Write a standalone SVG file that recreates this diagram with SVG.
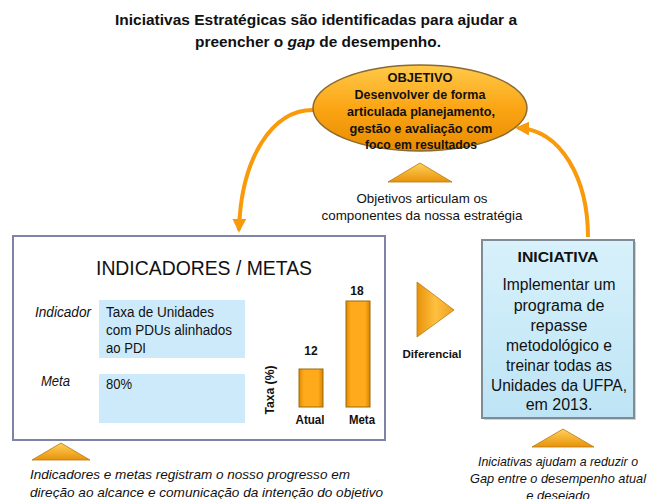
<svg xmlns="http://www.w3.org/2000/svg" width="661" height="499" viewBox="0 0 661 499">
<defs>
<style>
text{font-family:"Liberation Sans",Arial,sans-serif;fill:#111}
.b{font-weight:bold}
.i{font-style:italic}
.c{text-anchor:middle}
.conn{fill:none;stroke:#f99a0a;stroke-width:4}
.tri{fill:url(#gTri);stroke:#b97a10;stroke-width:0.8}
.bar{fill:url(#gBar);stroke:#9a6a10;stroke-width:1}
.blue{fill:#cdeafb}
</style>
<linearGradient id="gEll" x1="0" y1="0" x2="0" y2="1">
<stop offset="0" stop-color="#ffc94a"/>
<stop offset="0.5" stop-color="#fba514"/>
<stop offset="1" stop-color="#e88c00"/>
</linearGradient>
<linearGradient id="gTri" x1="0" y1="0" x2="0" y2="1">
<stop offset="0" stop-color="#ffd25a"/>
<stop offset="1" stop-color="#e8920a"/>
</linearGradient>
<linearGradient id="gTriR" x1="0" y1="0" x2="1" y2="0">
<stop offset="0" stop-color="#e8920a"/>
<stop offset="0.5" stop-color="#ffc040"/>
<stop offset="1" stop-color="#f0a020"/>
</linearGradient>
<linearGradient id="gBar" x1="0" y1="0" x2="1" y2="0">
<stop offset="0" stop-color="#e08a00"/>
<stop offset="0.2" stop-color="#ffaa1a"/>
<stop offset="0.8" stop-color="#ffaa1a"/>
<stop offset="1" stop-color="#d88400"/>
</linearGradient>
<linearGradient id="gBlue" x1="0" y1="0" x2="0" y2="1">
<stop offset="0" stop-color="#d8f1fb"/>
<stop offset="1" stop-color="#bde4f5"/>
</linearGradient>
<marker id="ah" viewBox="0 0 10 10" refX="8" refY="5" markerWidth="14" markerHeight="14" markerUnits="userSpaceOnUse" orient="auto">
<path d="M0,0 L10,5 L0,10 Z" fill="#f99a0a"/>
</marker>
</defs>
<rect width="661" height="499" fill="#fff"/>

<g id="title">
<text class="b c" x="316" y="25" font-size="15" textLength="402" lengthAdjust="spacingAndGlyphs">Iniciativas Estratégicas são identificadas para ajudar a</text>
<text class="b c" x="318" y="47" font-size="15" textLength="246" lengthAdjust="spacingAndGlyphs">preencher o <tspan font-style="italic">gap</tspan> de desempenho.</text>
</g>

<g id="connectors">
<path class="conn" d="M313,110 C272,110 241,158 239,230" marker-end="url(#ah)"/>
<path class="conn" d="M588,237 C588,180 562,130 518,128" marker-end="url(#ah)"/>
</g>

<g id="objetivo">
<ellipse cx="420" cy="108" rx="107" ry="43" fill="url(#gEll)" stroke="#8a6a30" stroke-width="1.5"/>
<text class="b c" x="420" y="82" font-size="13" textLength="65" lengthAdjust="spacingAndGlyphs">OBJETIVO</text>
<text class="b c" x="420" y="99" font-size="13" textLength="131" lengthAdjust="spacingAndGlyphs">Desenvolver de forma</text>
<text class="b c" x="421" y="116" font-size="13" textLength="148" lengthAdjust="spacingAndGlyphs">articulada planejamento,</text>
<text class="b c" x="421" y="133" font-size="13" textLength="143" lengthAdjust="spacingAndGlyphs">gestão e avaliação com</text>
<text class="b c" x="421" y="149" font-size="13" textLength="112" lengthAdjust="spacingAndGlyphs">foco em resultados</text>
</g>

<g id="objetivo-nota">
<polygon class="tri" points="420,163 452,182 388,182"/>
<text class="c" x="422" y="203" font-size="13" textLength="131" lengthAdjust="spacingAndGlyphs">Objetivos articulam os</text>
<text class="c" x="422" y="220" font-size="13" textLength="201" lengthAdjust="spacingAndGlyphs">componentes da nossa estratégia</text>
</g>

<g id="indicadores">
<rect x="13" y="236" width="372" height="204" fill="#fff" stroke="#7d84a6" stroke-width="2"/>
<text class="c" x="204" y="275" font-size="20" textLength="216" lengthAdjust="spacingAndGlyphs">INDICADORES / METAS</text>
<text class="i" x="35" y="317" font-size="14" textLength="56" lengthAdjust="spacingAndGlyphs">Indicador</text>
<text class="i" x="41" y="386" font-size="14" textLength="29" lengthAdjust="spacingAndGlyphs">Meta</text>
<rect class="blue" x="99" y="300" width="146" height="58"/>
<rect class="blue" x="99" y="374" width="146" height="49"/>
<text x="106" y="317" font-size="14" textLength="108" lengthAdjust="spacingAndGlyphs">Taxa de Unidades</text>
<text x="106" y="335" font-size="14" textLength="126" lengthAdjust="spacingAndGlyphs">com PDUs alinhados</text>
<text x="106" y="353" font-size="14" textLength="40" lengthAdjust="spacingAndGlyphs">ao PDI</text>
<text x="106" y="389" font-size="14" textLength="26" lengthAdjust="spacingAndGlyphs">80%</text>
<text class="b c" transform="translate(274,390) rotate(-90)" font-size="12" textLength="49" lengthAdjust="spacingAndGlyphs">Taxa (%)</text>
<rect class="bar" x="299" y="369" width="24" height="38"/>
<rect class="bar" x="346" y="301" width="24" height="106"/>
<text class="b c" x="311" y="355" font-size="12">12</text>
<text class="b c" x="357" y="295" font-size="12">18</text>
<text class="b c" x="310" y="424" font-size="12" textLength="29" lengthAdjust="spacingAndGlyphs">Atual</text>
<text class="b c" x="362" y="424" font-size="12" textLength="26" lengthAdjust="spacingAndGlyphs">Meta</text>
</g>

<g id="indicadores-nota">
<polygon class="tri" points="61,443 90,460 32,460"/>
<text class="i" x="30" y="479" font-size="13" textLength="320" lengthAdjust="spacingAndGlyphs">Indicadores e metas registram o nosso progresso em</text>
<text class="i" x="30" y="497" font-size="13" textLength="353" lengthAdjust="spacingAndGlyphs">direção ao alcance e comunicação da intenção do objetivo</text>
</g>

<g id="diferencial">
<polygon points="417,282 454,310 417,337" fill="url(#gTriR)" stroke="#b97a10" stroke-width="0.8"/>
<text class="b c" x="432" y="358" font-size="11" textLength="59" lengthAdjust="spacingAndGlyphs">Diferencial</text>
</g>

<g id="iniciativa">
<rect x="484" y="242" width="152" height="178" fill="#9aa" opacity="0.5"/>
<rect x="482" y="240" width="152" height="178" fill="url(#gBlue)" stroke="#7f8c94" stroke-width="2"/>
<text class="b c" x="558" y="262" font-size="15" textLength="81" lengthAdjust="spacingAndGlyphs">INICIATIVA</text>
<text class="c" x="559" y="290" font-size="16" textLength="113" lengthAdjust="spacingAndGlyphs">Implementar um</text>
<text class="c" x="559" y="311" font-size="16">programa de</text>
<text class="c" x="559" y="331" font-size="16">repasse</text>
<text class="c" x="559" y="351" font-size="16" textLength="106" lengthAdjust="spacingAndGlyphs">metodológico e</text>
<text class="c" x="559" y="371" font-size="16" textLength="106" lengthAdjust="spacingAndGlyphs">treinar todas as</text>
<text class="c" x="559" y="391" font-size="16" textLength="136" lengthAdjust="spacingAndGlyphs">Unidades da UFPA,</text>
<text class="c" x="559" y="410" font-size="16">em 2013.</text>
</g>

<g id="iniciativa-nota">
<polygon class="tri" points="563,429 594,447 532,447"/>
<text class="i c" x="558" y="466" font-size="13" textLength="160" lengthAdjust="spacingAndGlyphs">Iniciativas ajudam a reduzir o</text>
<text class="i c" x="558" y="483" font-size="13" textLength="176" lengthAdjust="spacingAndGlyphs">Gap entre o desempenho atual</text>
<text class="i c" x="558" y="500" font-size="13">e desejado</text>
</g>
</svg>
